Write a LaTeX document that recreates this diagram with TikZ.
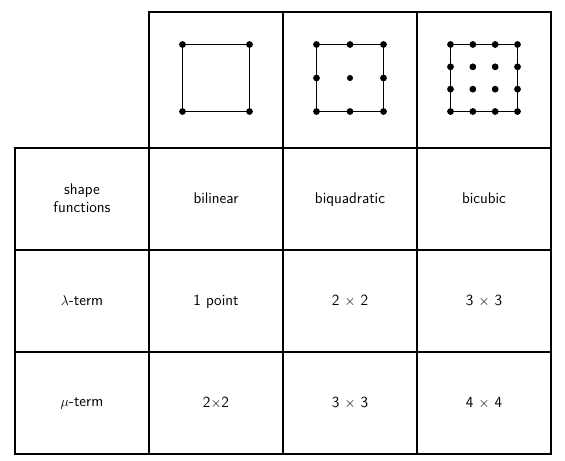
\documentclass[tikz,border=0pt]{standalone}
\usetikzlibrary{positioning}
\tikzset{
	cell/.style={
		rectangle,
		draw=black, line width=1.2pt,
		outer sep=0pt, inner sep=0pt,
		minimum width=4.02cm,
		minimum height=3.06cm,
		text depth=0.3ex,
		align=center,
		font=\sffamily\fontsize{13.2}{15.5}\selectfont},
	topcell/.style={cell, minimum height=4.08cm},
	frame/.style={draw, line width=0.7pt},
	knot/.style={fill=black},
}

\begin{document}
\begin{tikzpicture}[node distance=0pt]
	\useasboundingbox (0,0) rectangle (16.95,13.8);
	% first row: names of the elements
	\node[cell] (shape) at (2.46,7.83) {shape\\functions};
	\node[cell, right=of shape] (bilin) {bilinear};
	\node[cell, right=of bilin] (biquad) {biquadratic};
	\node[cell, right=of biquad] (bicub) {bicubic};
	% lambda and mu rows
	\node[cell, below=of shape] (lterm) {$\lambda$-term};
	\node[cell, below=of bilin] (lbilin) {1 point};
	\node[cell, below=of biquad] (lbiquad) {2 $\times$ 2};
	\node[cell, below=of bicub] (lbicub) {3 $\times$ 3};
	\node[cell, below=of lterm] (mterm) {$\mu$-term};
	\node[cell, below=of lbilin] (mbilin) {2$\times$2};
	\node[cell, below=of lbiquad] (mbiquad) {3 $\times$ 3};
	\node[cell, below=of lbicub] (mbicub) {4 $\times$ 4};
	% element pictures
	\node[topcell, above=of bilin] (quadA) {};
	\node[topcell, above=of biquad] (quadB) {};
	\node[topcell, above=of bicub] (quadC) {};

	\foreach \cname/\n in {quadA/1, quadB/2, quadC/3} {
		\begin{scope}[shift={(\cname.center)}, yshift=0.06cm]
			\draw[frame] (-1.005,-1.005) rectangle (1.005,1.005);
			\foreach \i in {0,...,\n}
				\foreach \j in {0,...,\n} {
					\pgfmathsetmacro{\rad}{(\n==2 && \i==1 && \j==1) ? 2.6 : 2.9}
					\fill[knot] ({-1.005+2.01*\i/\n},{-1.005+2.01*\j/\n}) circle (\rad pt);
				}
		\end{scope}
	}
\end{tikzpicture}
\end{document}
